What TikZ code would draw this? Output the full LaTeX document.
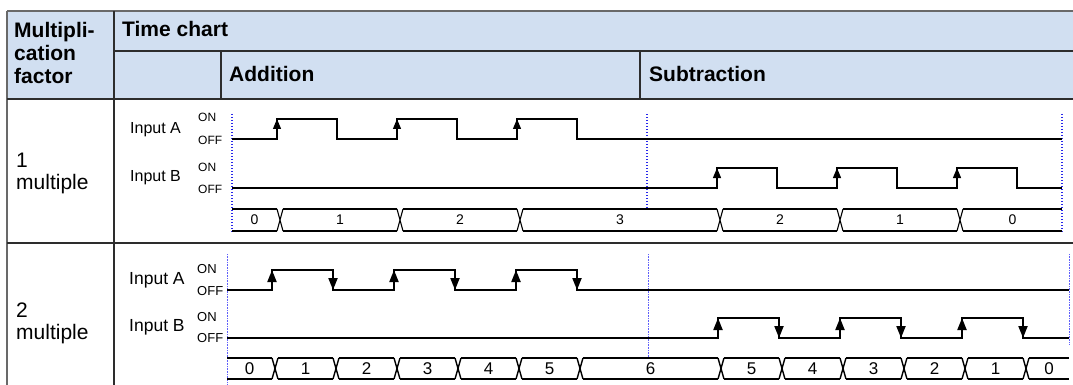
\documentclass[tikz,border=0pt]{standalone}
\usepackage{fontspec}
\setmainfont{Liberation Sans}
\usepackage{tikz}
\usetikzlibrary{arrows.meta, positioning, calc}
\definecolor{cHead}{RGB}{209,223,241}
\definecolor{cRule}{RGB}{45,45,45}
\definecolor{cFrame}{RGB}{105,105,105}
\definecolor{cMark}{RGB}{40,40,235}
\definecolor{cMarkB}{RGB}{95,95,250}

\begin{document}
\begin{tikzpicture}[x=1pt, y=-1pt,
  hd/.style={font=\fontsize{21}{23}\selectfont\bfseries, inner sep=0pt},
  fac/.style={font=\fontsize{21}{22}\selectfont, inner sep=0pt, align=left},
  lab1/.style={font=\fontsize{16}{17}\selectfont, inner sep=0pt},
  lvl1/.style={font=\fontsize{12}{13}\selectfont, inner sep=0pt},
  lab2/.style={font=\fontsize{17.5}{18}\selectfont, inner sep=0pt},
  lvl2/.style={font=\fontsize{13}{14}\selectfont, inner sep=0pt},
  cnt1/.style={font=\fontsize{14}{15}\selectfont, inner sep=0pt},
  cnt2/.style={font=\fontsize{17}{18}\selectfont, inner sep=0pt},
  sig1/.style={line width=1.2pt, line join=miter},
  sig2/.style={line width=2pt, line join=miter},
  edge1/.style={line width=1.2pt, -{Triangle[width=8pt, length=10pt]}},
  edge2/.style={line width=2pt, -{Triangle[width=9pt, length=12pt]}},
  bus1/.style={line width=1.1pt},
  bus2/.style={line width=1.4pt},
  mark1/.style={cMark, line width=1.4pt, dash pattern=on 1.4pt off 1.6pt},
  mark2/.style={cMarkB, line width=0.9pt, dash pattern=on 0.9pt off 0.7pt}]
  \useasboundingbox (0,0) rectangle (1073,385);
  % table
  \fill[cHead] (7,11) rectangle (1073,99);
  \draw[cFrame, line width=2pt] (7,11) -- (1073,11);
  \draw[cFrame, line width=2.5pt] (7,11) -- (7,385);
  \draw[cRule, line width=1.5pt] (114,11) -- (114,385);
  \draw[cRule, line width=1.5pt] (114,51) -- (1073,51);
  \draw[cRule, line width=1.5pt] (221,51) -- (221,99) (640,51) -- (640,99);
  \draw[cRule, line width=2pt] (7,99) -- (1073,99);
  \draw[cRule, line width=1.5pt] (7,243) -- (1073,243);
  \node[hd, anchor=north west, align=left] (fac) at (14,22) {Multipli-\\cation\\factor};
  \node[hd, anchor=base west] (tchart) at (122,37) {Time chart};
  \node[hd, anchor=base west] (add) at (229,82) {Addition};
  \node[hd, anchor=base west] (sub) at (649,82) {Subtraction};
  \node[fac, anchor=north west] (mult1) at (16,153) {1\\multiple};
  \node[fac, anchor=north west] (mult2) at (16,303) {2\\multiple};

  % 1 multiple
  \node[lab1, anchor=west] (inA1) at (130,130) {Input A};
  \node[lab1, anchor=west] (inB1) at (130,178) {Input B};
  \node[lvl1, anchor=west] (onA1) at (198,117) {ON};
  \node[lvl1, anchor=west] (offA1) at (198,140) {OFF};
  \node[lvl1, anchor=west] (onB1) at (198,167) {ON};
  \node[lvl1, anchor=west] (offB1) at (198,189) {OFF};
  \draw[mark1] (232,114) -- (232,232);
  \draw[mark1] (647,114) -- (647,208);
  \draw[mark1] (1062,114) -- (1062,232);
  \draw[sig1] (232,139) foreach \r in {277,397,517} { -- (\r,139) -- (\r,119) -- (\r+60,119) -- (\r+60,139) } -- (1062,139);
  \draw[sig1] (232,188) foreach \r in {717,837,957} { -- (\r,188) -- (\r,168) -- (\r+60,168) -- (\r+60,188) } -- (1062,188);
  \foreach \r in {277,397,517}
    \draw[edge1] (\r,139) -- (\r,119);
  \foreach \r in {717,837,957}
    \draw[edge1] (\r,188) -- (\r,168);
  \foreach \a/\b/\v [count=\i] in {232/277/0, 283/397/1, 403/517/2, 523/717/3, 723/837/2, 843/957/1, 963/1062/0}
    \draw[bus1] (\a,209) -- (\b,209) (\a,231) -- (\b,231)
      node[cnt1] (cnt1-\i) at ({(\a+\b)/2},220) {\v};
  \foreach \c in {280,400,520,720,840,960}
    \draw[bus1] (\c-3,209) -- (\c+3,231) (\c-3,231) -- (\c+3,209);

  % 2 multiple
  \node[lab2, anchor=west] (inA2) at (129,280) {Input A};
  \node[lab2, anchor=west] (inB2) at (129,327) {Input B};
  \node[lvl2, anchor=west] (onA2) at (197,269) {ON};
  \node[lvl2, anchor=west] (offA2) at (197,291) {OFF};
  \node[lvl2, anchor=west] (onB2) at (197,317) {ON};
  \node[lvl2, anchor=west] (offB2) at (197,338) {OFF};
  \draw[mark2] (227,254) -- (227,385);
  \draw[mark2] (648,254) -- (648,357);
  \draw[mark2] (1069,254) -- (1069,344);
  \draw[sig2] (227,290) foreach \r in {272,394,516} { -- (\r,290) -- (\r,270) -- (\r+61,270) -- (\r+61,290) } -- (1069,290);
  \draw[sig2] (227,338) foreach \r in {718,840,962} { -- (\r,338) -- (\r,318) -- (\r+61,318) -- (\r+61,338) } -- (1069,338);
  \foreach \r in {272,394,516} {
    \draw[edge2] (\r,290) -- (\r,270);
    \draw[edge2] (\r+61,270) -- (\r+61,290);
  }
  \foreach \r in {718,840,962} {
    \draw[edge2] (\r,338) -- (\r,318);
    \draw[edge2] (\r+61,318) -- (\r+61,338);
  }
  \foreach \a/\b/\v [count=\i] in {227/272/0, 278/333/1, 339/394/2, 400/455/3, 461/516/4, 522/577/5, 583/718/6, 724/779/5, 785/840/4, 846/901/3, 907/962/2, 968/1023/1, 1029/1069/0}
    \draw[bus2] (\a,358) -- (\b,358) (\a,379) -- (\b,379)
      node[cnt2] (cnt2-\i) at ({(\a+\b)/2},368.5) {\v};
  \foreach \c in {275,336,397,458,519,580,721,782,843,904,965,1026}
    \draw[bus2] (\c-3,358) -- (\c+3,379) (\c-3,379) -- (\c+3,358);
\end{tikzpicture}
\end{document}
